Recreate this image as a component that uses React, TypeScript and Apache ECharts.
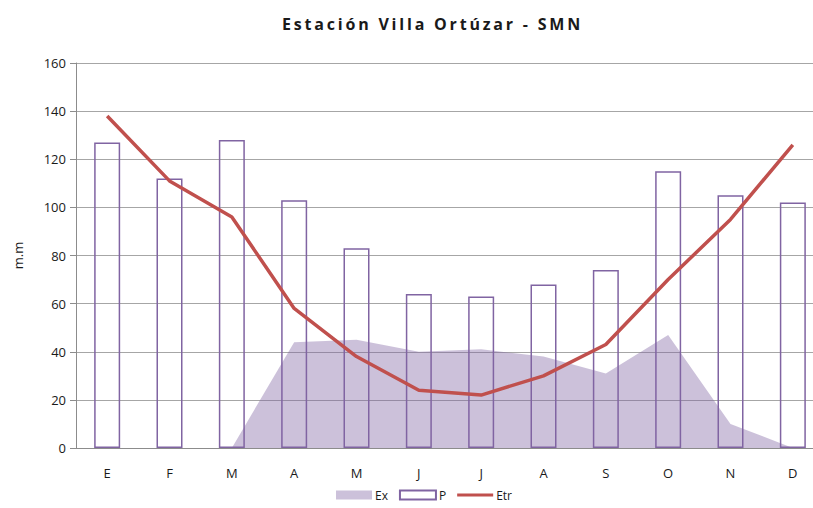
import React, { useEffect, useRef } from "react";
import * as echarts from "echarts";

const months = ["E", "F", "M", "A", "M", "J", "J", "A", "S", "O", "N", "D"];
const exValues = [null, null, 0, 44, 45, 40, 41, 38, 31, 47, 10, 0];
const pValues = [127, 112, 128, 103, 83, 64, 63, 68, 74, 115, 105, 102];
const etrValues = [138, 111, 96, 58, 38, 24, 22, 30, 43, 70, 95, 126];
const TITLE = "Estación Villa Ortúzar - SMN";

const FONT = "'Open Sans', 'Liberation Sans', sans-serif";
const LINE_ICON = "path://M0,0h0.05v0.05h-0.05z M35.95,8.95h0.05v0.05h-0.05z M0,3h36v3h-36z";

export default function App() {
  const ref = useRef<HTMLDivElement>(null);
  useEffect(() => {
    if (!ref.current) return;
    const el = ref.current;
    const chart = echarts.init(el, undefined, { renderer: "svg" });
    const spaceTitle = () => {
      el.querySelectorAll("text").forEach((t) => {
        if (t.textContent === TITLE) t.setAttribute("letter-spacing", "2.8");
      });
    };
    chart.on("rendered", spaceTitle);
    chart.setOption({
      animation: false,
      backgroundColor: "#ffffff",
      textStyle: { fontFamily: FONT },
      title: {
        text: TITLE,
        left: 277,
        top: 11,
        textStyle: { fontFamily: FONT, fontSize: 16, fontWeight: "bold", color: "#1a1a1a" },
      },
      legend: {
        top: 486,
        left: 331,
        padding: [2, 5, 2, 5],
        itemWidth: 36,
        itemHeight: 9,
        itemGap: 11,
        textStyle: { fontFamily: FONT, fontSize: 12, lineHeight: 14, color: "#1a1a1a", padding: [0, 0, 0, -2] },
        data: [
          { name: "Ex", icon: "rect" },
          { name: "P", icon: "rect" },
          { name: "Etr", icon: LINE_ICON },
        ],
      },
      grid: { left: 76, width: 748, top: 63, height: 385, containLabel: false, outerBoundsMode: "none" },
      xAxis: {
        type: "category",
        data: months,
        boundaryGap: true,
        axisLine: { show: true, lineStyle: { color: "#8c8c8c", width: 1 } },
        axisTick: { show: false },
        axisLabel: { fontFamily: FONT, fontSize: 13, color: "#1a1a1a", margin: 18 },
        splitLine: { show: false },
      },
      yAxis: {
        type: "value",
        min: 0,
        max: 160,
        interval: 20,
        name: "m.m",
        nameLocation: "middle",
        nameGap: 52,
        nameRotate: 90,
        nameTextStyle: { fontFamily: FONT, fontSize: 13, color: "#1a1a1a" },
        axisLine: { show: true, lineStyle: { color: "#8c8c8c", width: 1 } },
        axisTick: { show: true, length: 6, lineStyle: { color: "#8c8c8c" } },
        axisLabel: { fontFamily: FONT, fontSize: 13, color: "#1a1a1a", margin: 10 },
        splitLine: { show: true, lineStyle: { color: "#a6a6a6", width: 1 } },
      },
      series: [
        {
          name: "Ex",
          type: "line",
          data: exValues,
          symbol: "none",
          color: "rgba(128,100,162,0.4)",
          lineStyle: { width: 0 },
          areaStyle: { color: "rgba(128,100,162,0.4)", opacity: 1 },
          z: 1,
        },
        {
          name: "P",
          type: "bar",
          data: pValues,
          barWidth: 26,
          itemStyle: { color: "rgba(255,255,255,0)", borderColor: "#8064a2", borderWidth: 1.5 },
          z: 2,
        },
        {
          name: "Etr",
          type: "line",
          data: etrValues,
          symbol: "none",
          color: "#c0504d",
          lineStyle: { color: "#c0504d", width: 3.5 },
          z: 3,
        },
      ],
    });
    spaceTitle();
    return () => chart.dispose();
  }, []);
  return <div ref={ref} style={{ width: 813, height: 508, position: "absolute", left: 0, top: 0 }} />;
}
